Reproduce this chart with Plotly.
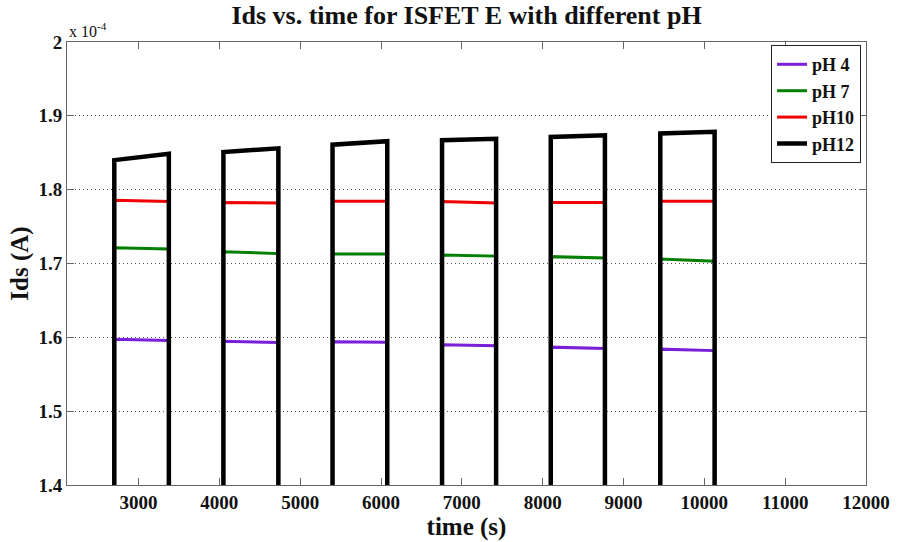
import plotly.graph_objects as go

# ---- data (time in s, current in units of 1e-4 A) ----
t_record_start = 2115
pulse_start = [2700, 4050, 5400, 6755, 8100, 9455]
pulse_end = [3375, 4730, 6077, 7424, 8770, 10127]
off_level = 0.0

ph4_start = [1.5975, 1.5948, 1.5940, 1.5900, 1.5867, 1.5840]
ph4_end = [1.5957, 1.5930, 1.5935, 1.5886, 1.5850, 1.5820]
ph7_start = [1.7214, 1.7160, 1.7130, 1.7116, 1.7093, 1.7060]
ph7_end = [1.7197, 1.7134, 1.7130, 1.7100, 1.7075, 1.7030]
ph10_start = [1.7857, 1.7826, 1.7844, 1.7840, 1.7826, 1.7844]
ph10_end = [1.7840, 1.7820, 1.7844, 1.7820, 1.7826, 1.7844]
ph12_start = [1.8400, 1.8510, 1.8610, 1.8670, 1.8715, 1.8760]
ph12_end = [1.8487, 1.8560, 1.8656, 1.8690, 1.8737, 1.8783]

x_tick_vals = [3000, 4000, 5000, 6000, 7000, 8000, 9000, 10000, 11000, 12000]
y_tick_vals = [1.4, 1.5, 1.6, 1.7, 1.8, 1.9, 2.0]
y_tick_text = ["1.4", "1.5", "1.6", "1.7", "1.8", "1.9", "2"]
scale = 1e-4

series_names = ["pH 4", "pH 7", "pH10", "pH12"]
series_colors = ["#7a1fd8", "#007f00", "#f00000", "#000000"]
series_widths = [3, 3, 3, 4.5]
series_levels = [(ph4_start, ph4_end), (ph7_start, ph7_end),
                 (ph10_start, ph10_end), (ph12_start, ph12_end)]


def square_wave(lv_start, lv_end):
    xs = [t_record_start]
    ys = [off_level * scale]
    for s, e, a, b in zip(pulse_start, pulse_end, lv_start, lv_end):
        xs += [s, s, e, e]
        ys += [off_level * scale, a * scale, b * scale, off_level * scale]
    return xs, ys


FONT = "Liberation Serif"

fig = go.Figure()
for name, col, w, (a, b) in zip(series_names, series_colors, series_widths, series_levels):
    xs, ys = square_wave(a, b)
    fig.add_trace(go.Scatter(x=xs, y=ys, mode="lines", name="<b>%s</b>" % name,
                             line=dict(color=col, width=w)))

fig.update_layout(
    width=902, height=542,
    margin=dict(l=67, r=27, t=42, b=55),
    paper_bgcolor="white", plot_bgcolor="white",
    font=dict(family=FONT, color="black"),
    title=dict(text="<b>Ids vs. time for ISFET E with different pH</b>",
               x=0.5, xref="paper", xanchor="center",
               y=0.972, yref="container", yanchor="middle",
               font=dict(family=FONT, size=26, color="#111")),
    showlegend=True,
    legend=dict(x=0.9938, y=0.993, xanchor="right", yanchor="top",
                bgcolor="white", bordercolor="#222", borderwidth=1,
                font=dict(family=FONT, size=18, color="#111"),
                tracegroupgap=0, itemwidth=30),
)

axis_common = dict(showline=True, linecolor="#666", linewidth=1, mirror="ticks",
                   ticks="inside", ticklen=7, tickcolor="#666", zeroline=False,
                   tickfont=dict(family=FONT, size=19, color="#111"))

fig.update_xaxes(range=[t_record_start, 12000], tickvals=x_tick_vals,
                 ticktext=["<b>%d</b>" % v for v in x_tick_vals],
                 showgrid=False,
                 title=dict(text="<b>time (s)</b>", standoff=0,
                            font=dict(family=FONT, size=25, color="#111")),
                 **axis_common)
fig.update_yaxes(range=[1.4 * scale, 2.0 * scale],
                 tickvals=[v * scale for v in y_tick_vals],
                 ticktext=["<b>%s</b>" % t for t in y_tick_text],
                 showgrid=True, gridcolor="#555", gridwidth=1, griddash="1px,3px",
                 title=dict(text="<b>Ids (A)</b>", standoff=2,
                            font=dict(family=FONT, size=25, color="#111")),
                 **axis_common)

fig.add_annotation(text="x 10<sup>-4</sup>", xref="paper", yref="paper",
                   x=0.0, y=1.0, xanchor="left", yanchor="bottom", showarrow=False,
                   font=dict(family=FONT, size=16, color="#111"))

fig.write_html("out.html")
